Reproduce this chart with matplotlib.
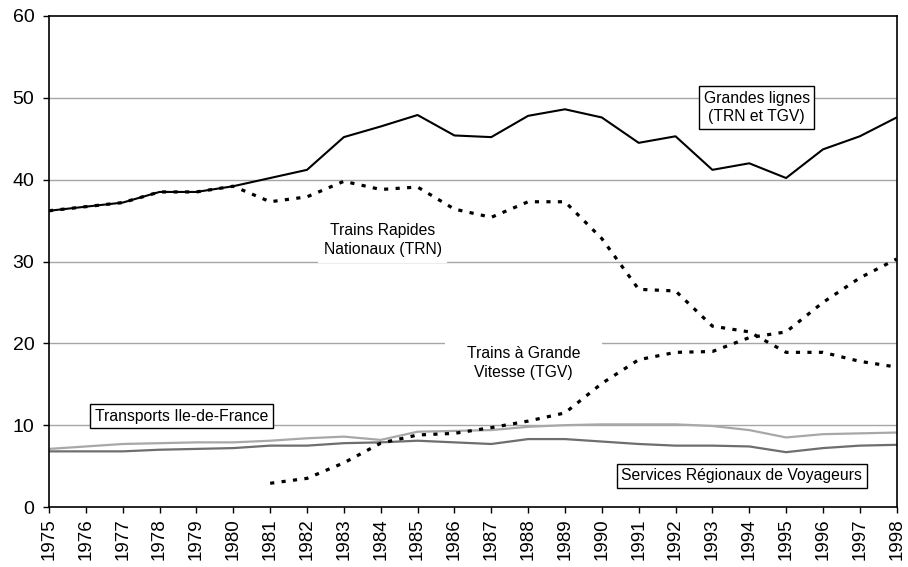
import matplotlib
matplotlib.use('Agg')
import matplotlib.pyplot as plt

plt.rcParams['font.family'] = ['Liberation Sans', 'DejaVu Sans']

# Years and series
years = list(range(1975, 1999))

grandes_lignes = [36.2, 36.7, 37.2, 38.5, 38.5, 39.2, 40.2, 41.2, 45.2, 46.5, 47.9, 45.4,
                  45.2, 47.8, 48.6, 47.6, 44.5, 45.3, 41.2, 42.0, 40.2, 43.7, 45.3, 47.6]
trn = [36.2, 36.7, 37.2, 38.5, 38.5, 39.2, 37.3, 37.9, 39.8, 38.8, 39.1, 36.4,
       35.4, 37.3, 37.3, 32.8, 26.6, 26.4, 22.1, 21.4, 18.9, 18.9, 17.8, 17.1]
tgv_years = list(range(1981, 1999))
tgv = [2.9, 3.5, 5.4, 7.8, 8.8, 9.0, 9.7, 10.5, 11.5, 15.1, 18.0, 18.9,
       19.0, 20.7, 21.4, 25.0, 28.0, 30.3]
ile_de_france = [7.1, 7.4, 7.7, 7.8, 7.9, 7.9, 8.1, 8.4, 8.6, 8.2, 9.2, 9.3,
                 9.4, 9.8, 10.0, 10.1, 10.1, 10.1, 9.9, 9.4, 8.5, 8.9, 9.0, 9.1]
services_regionaux = [6.8, 6.8, 6.8, 7.0, 7.1, 7.2, 7.5, 7.5, 7.8, 7.9, 8.1, 7.9,
                      7.7, 8.3, 8.3, 8.0, 7.7, 7.5, 7.5, 7.4, 6.7, 7.2, 7.5, 7.6]

fig = plt.figure(figsize=(9.08, 5.67), dpi=100)
ax = fig.add_axes([0.054, 0.1058, 0.9335, 0.866])

# grid
for v in [10, 20, 30, 40, 50]:
    ax.axhline(v, color='#a6a6a6', lw=1, zorder=0)

ax.plot(years, ile_de_france, color='#a8a8a8', lw=1.6, zorder=2)
ax.plot(years, services_regionaux, color='#6e6e6e', lw=1.6, zorder=2)
ax.plot(years, grandes_lignes, color='black', lw=1.5, zorder=3)
ax.plot(years, trn, color='black', lw=2.3, linestyle=(0, (1.3, 2.3)), zorder=4)
ax.plot(tgv_years, tgv, color='black', lw=2.3, linestyle=(0, (1.3, 2.3)), zorder=4)

ax.set_xlim(1975, 1998)
ax.set_ylim(0, 60)
ax.set_xticks(years)
ax.set_xticklabels([str(y) for y in years], rotation=90)
ax.set_yticks(range(0, 61, 10))
ax.tick_params(axis='both', direction='out', length=4.5, width=1, colors='black')
ax.tick_params(axis='y', labelsize=14, pad=6)
ax.tick_params(axis='x', labelsize=13.5, pad=3.5)
for s in ax.spines.values():
    s.set_color('black')
    s.set_linewidth(1.2)

# annotations
fs = 11.3
ax.text(1994.2, 48.8, 'Grandes lignes\n(TRN et TGV)', ha='center', va='center', fontsize=fs,
        linespacing=1.3, zorder=6,
        bbox=dict(boxstyle='square,pad=0.3', fc='white', ec='black', lw=1))
ax.text(1984.06, 32.6, 'Trains Rapides\nNationaux (TRN)', ha='center', va='center', fontsize=fs,
        linespacing=1.3, zorder=6,
        bbox=dict(boxstyle='square,pad=0.35', fc='white', ec='none'))
ax.text(1987.87, 17.6, 'Trains à Grande\nVitesse (TGV)', ha='center', va='center', fontsize=fs,
        linespacing=1.3, zorder=1,
        bbox=dict(boxstyle='square,pad=1.4', fc='white', ec='none'))
ax.text(1978.6, 11.1, 'Transports Ile-de-France', ha='center', va='center', fontsize=fs,
        zorder=6,
        bbox=dict(boxstyle='square,pad=0.3', fc='white', ec='black', lw=1))
ax.text(1993.8, 3.8, 'Services Régionaux de Voyageurs', ha='center', va='center', fontsize=fs,
        zorder=6,
        bbox=dict(boxstyle='square,pad=0.3', fc='white', ec='black', lw=1))

fig.savefig('out.png', dpi=100)
